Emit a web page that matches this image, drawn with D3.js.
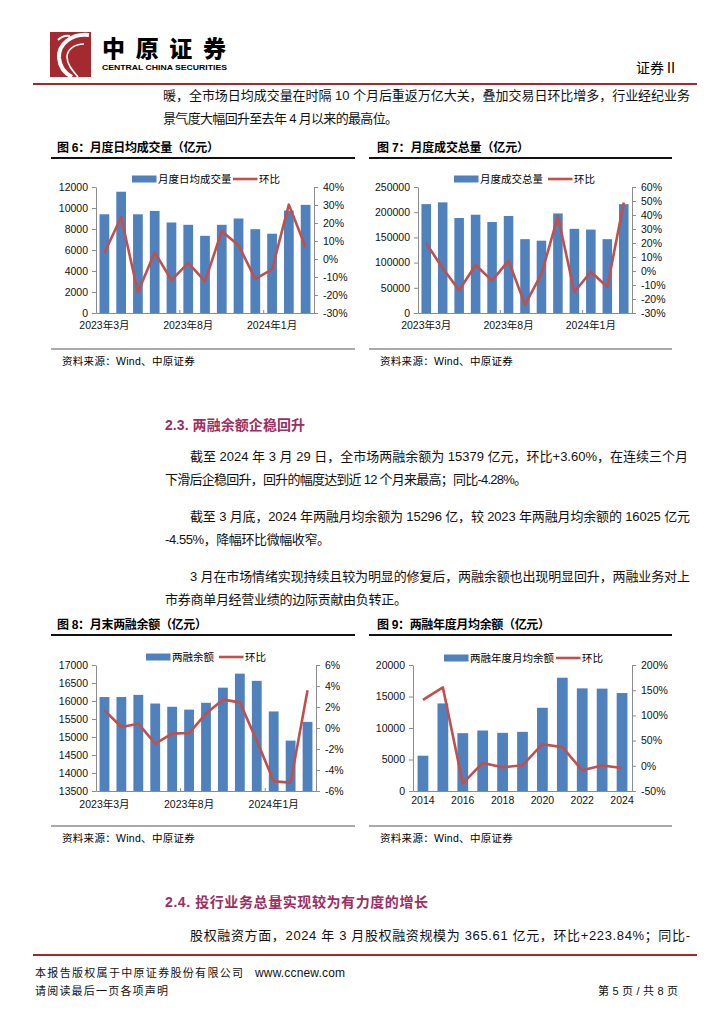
<!DOCTYPE html>
<html><head><meta charset="utf-8">
<script src="https://cdn.jsdelivr.net/npm/d3@7/dist/d3.min.js"></script>
<style>
html,body{margin:0;padding:0;background:#fff;}
svg{display:block;}
text{font-family:"Liberation Sans",Arial,"Noto Sans CJK SC",sans-serif;}
</style></head>
<body>
<svg id="page" width="724" height="1024"></svg>
<script>
// ---------------- DATA ----------------
const monthLabels = ["2023年3月","2023年4月","2023年5月","2023年6月","2023年7月","2023年8月","2023年9月","2023年10月","2023年11月","2023年12月","2024年1月","2024年2月","2024年3月"];
const monthTickShown = ["2023年3月","2023年8月","2024年1月"];

const dailyTurnover    = [9400, 11550, 9400, 9720, 8620, 8400, 7350, 8400, 9000, 7980, 7550, 9750, 10300];
const dailyTurnoverMoM = [3.3, 23.3, -18.5, 3.7, -11.7, -2.2, -12.4, 15.4, 7.6, -11.1, -5.7, 30.2, 6.5];
const dailyLeftTicks  = [0, 2000, 4000, 6000, 8000, 10000, 12000];
const dailyRightTicks = [-30, -20, -10, 0, 10, 20, 30, 40];

const totalTurnover    = [216000, 219500, 188500, 195000, 180500, 192500, 146500, 143500, 197500, 167000, 165500, 146500, 216000];
const totalTurnoverMoM = [19.8, 2.0, -13.8, 4.3, -6.9, 7.4, -24.0, -2.1, 39.0, -15.0, -0.5, -11.4, 49.0];
const totalLeftTicks  = [0, 50000, 100000, 150000, 200000, 250000];
const totalRightTicks = [-30, -20, -10, 0, 10, 20, 30, 40, 50, 60];

const marginBalance    = [16110, 16110, 16170, 15930, 15840, 15760, 15950, 16370, 16760, 16560, 15710, 14900, 15420];
const marginBalanceMoM = [1.68, 0.1, 0.41, -1.49, -0.54, -0.48, 1.37, 2.7, 2.44, -1.2, -5.08, -5.2, 3.6];
const marginLeftTicks  = [13500, 14000, 14500, 15000, 15500, 16000, 16500, 17000];
const marginRightTicks = [-6, -4, -2, 0, 2, 4, 6];

const years = ["2014","2015","2016","2017","2018","2019","2020","2021","2022","2023","2024"];
const yearTickShown = ["2014","2016","2018","2020","2022","2024"];
const marginAnnualAvg    = [5600, 13900, 9180, 9600, 9230, 9390, 13210, 17980, 16290, 16250, 15550];
const marginAnnualAvgChg = [131, 155.6, -35, 5.7, -3, 1, 42.8, 37, -9, 0.5, -4.5];
const annualLeftTicks  = [0, 5000, 10000, 15000, 20000];
const annualRightTicks = [-50, 0, 50, 100, 150, 200];

// ---------------- PAGE ----------------
const svg = d3.select("#page");
const BLUE = "#4F81BD", RED = "#C0504D", AXIS = "#8c8c8c", HEAD = "#A3282E", PURPLE = "#9B2F62";

// header logo
const logo = svg.append("g");
logo.append("rect").attr("x",50).attr("y",32).attr("width",41).attr("height",45).attr("fill","#A52A2F");
logo.append("path").attr("d","M89,35 C72,33 58,44 59,58 C60,68 66,74 72,77").attr("fill","none").attr("stroke","#fff").attr("stroke-width",4);
logo.append("path").attr("d","M84,44 C74,44 67,50 67,57 C67,64 72,70 78,77").attr("fill","none").attr("stroke","#fff").attr("stroke-width",1.6);
logo.append("path").attr("d","M58,40 C62,36 66,35 70,36").attr("fill","none").attr("stroke","#fff").attr("stroke-width",2);
svg.append("text").attr("x",102).attr("y",49).attr("dominant-baseline","central")
  .attr("font-family","Noto Sans CJK SC").attr("font-weight",900).attr("font-size",23)
  .attr("textLength",124).attr("lengthAdjust","spacing").text("中原证券");
svg.append("text").attr("x",102).attr("y",67).attr("dominant-baseline","central")
  .attr("font-weight","bold").attr("font-size",7.2).attr("textLength",125).attr("lengthAdjust","spacingAndGlyphs")
  .text("CENTRAL CHINA SECURITIES");
svg.append("text").attr("x",636).attr("y",68).attr("dominant-baseline","central")
  .attr("font-size",14).attr("font-family","Noto Sans CJK SC").text("证券Ⅱ");
svg.append("line").attr("x1",33).attr("x2",697).attr("y1",84).attr("y2",84).attr("stroke",HEAD).attr("stroke-width",2);

// body text helper
function line(x, y, w, str, opts={}) {
  const t = svg.append("text").attr("x",x).attr("y",y).attr("dominant-baseline","central")
    .attr("font-size",opts.size||13).attr("fill",opts.fill||"#111").text(str);
  if (opts.bold) t.attr("font-weight","bold");
  if (w) t.attr("textLength",w).attr("lengthAdjust","spacing");
  return t;
}
line(163, 95, 527, "暖，全市场日均成交量在时隔 10 个月后重返万亿大关，叠加交易日环比增多，行业经纪业务");
line(163, 118, 235, "景气度大幅回升至去年 4 月以来的最高位。");

line(165, 425, 140, "2.3. 两融余额企稳回升", {size:14, bold:true, fill:PURPLE});
line(190, 456, 498, "截至 2024 年 3 月 29 日，全市场两融余额为 15379 亿元，环比+3.60%，在连续三个月");
line(165, 479, 362, "下滑后企稳回升，回升的幅度达到近 12 个月来最高；同比-4.28%。");
line(190, 516, 500, "截至 3 月底，2024 年两融月均余额为 15296 亿，较 2023 年两融月均余额的 16025 亿元");
line(165, 539, 165, "-4.55%，降幅环比微幅收窄。");
line(190, 576, 500, "3 月在市场情绪实现持续且较为明显的修复后，两融余额也出现明显回升，两融业务对上");
line(165, 599, 242, "市券商单月经营业绩的边际贡献由负转正。");

line(165, 902, 263, "2.4. 投行业务总量实现较为有力度的增长", {size:14, bold:true, fill:PURPLE});
line(190, 935, 500, "股权融资方面，2024 年 3 月股权融资规模为 365.61 亿元，环比+223.84%；同比-");

// footer
svg.append("line").attr("x1",33).attr("x2",697).attr("y1",955).attr("y2",955).attr("stroke",HEAD).attr("stroke-width",2);
line(35, 973, 208, "本报告版权属于中原证券股份有限公司", {size:11});
line(255, 973, 90, "www.ccnew.com", {size:12});
line(35, 991, 133, "请阅读最后一页各项声明", {size:11});
line(598, 991, 80, "第 5 页 / 共 8 页", {size:11});

// ---------------- CHARTS ----------------
const pct = d => (d < 0 ? "-" : "") + Math.abs(d) + "%";

function drawChart(c) {
  const g = svg.append("g");
  // title & rules
  g.append("text").attr("x",c.titleX).attr("y",c.titleY).attr("dominant-baseline","central")
    .attr("font-size",12).attr("font-weight","bold").attr("textLength",c.titleW).attr("lengthAdjust","spacing").text(c.title);
  g.append("line").attr("x1",c.ruleX1).attr("x2",c.ruleX2).attr("y1",c.titleY+10).attr("y2",c.titleY+10)
    .attr("stroke","#111").attr("stroke-width",2);
  g.append("line").attr("x1",c.ruleX1).attr("x2",c.ruleX2).attr("y1",c.bottomY).attr("y2",c.bottomY)
    .attr("stroke","#555").attr("stroke-width",1);
  g.append("text").attr("x",c.ruleX1+11).attr("y",c.bottomY+12).attr("dominant-baseline","central")
    .attr("font-size",10.5).attr("letter-spacing",0.3).text("资料来源：Wind、中原证券");

  const x = d3.scaleBand().domain(c.cats).range([c.x0, c.x1]).paddingInner(c.pad).paddingOuter(c.pad/2);
  const yL = d3.scaleLinear().domain(d3.extent(c.leftTicks)).range([c.yB, c.yT]);
  const yR = d3.scaleLinear().domain(d3.extent(c.rightTicks)).range([c.yB, c.yT]);

  // bars
  g.append("g").selectAll("rect").data(c.values).join("rect")
    .attr("x",(d,i)=>x(c.cats[i])).attr("width",x.bandwidth())
    .attr("y",d=>yL(d)).attr("height",d=>c.yB - yL(d)).attr("fill",BLUE);

  // axes
  const styleAxis = a => {
    a.select(".domain").attr("stroke",AXIS);
    a.selectAll(".tick line").attr("stroke",AXIS);
    a.selectAll(".tick text").attr("fill","#111").attr("font-size",10.5)
      .attr("font-family","'Liberation Sans',Arial,'Noto Sans CJK SC',sans-serif");
  };
  g.append("g").attr("transform",`translate(${c.x0},0)`)
    .call(d3.axisLeft(yL).tickValues(c.leftTicks).tickSize(4).tickSizeOuter(0).tickPadding(c.lPad).tickFormat(d3.format("d")))
    .call(styleAxis);
  g.append("g").attr("transform",`translate(${c.x1},0)`)
    .call(d3.axisRight(yR).tickValues(c.rightTicks).tickSize(4).tickSizeOuter(0).tickPadding(c.rPad).tickFormat(pct))
    .call(styleAxis);
  g.append("g").attr("transform",`translate(0,${c.yB})`)
    .call(d3.axisBottom(x).tickValues(c.shown).tickSize(0).tickPadding(c.xPad))
    .call(styleAxis);
  // inward tick marks at category boundaries
  c.boundaryTicks.forEach(k => {
    const bx = c.x0 + k * (c.x1 - c.x0) / c.cats.length;
    g.append("line").attr("x1",bx).attr("x2",bx).attr("y1",c.yB).attr("y2",c.yB-3).attr("stroke",AXIS);
  });

  // line
  const ln = d3.line().x((d,i)=>x(c.cats[i]) + x.bandwidth()/2).y(d=>yR(d));
  g.append("path").datum(c.lineValues).attr("d",ln).attr("fill","none")
    .attr("stroke",RED).attr("stroke-width",2.6).attr("stroke-linejoin","round");

  // legend
  const lg = g.append("g");
  lg.append("rect").attr("x",c.legX).attr("y",c.legY-3.5).attr("width",24.5).attr("height",7).attr("fill",BLUE);
  lg.append("text").attr("x",c.legX+26).attr("y",c.legY).attr("dominant-baseline","central")
    .attr("font-size",10.5).text(c.barName);
  lg.append("line").attr("x1",c.legLX).attr("x2",c.legLX+24.5).attr("y1",c.legY).attr("y2",c.legY)
    .attr("stroke",RED).attr("stroke-width",2.6);
  lg.append("text").attr("x",c.legLX+26).attr("y",c.legY).attr("dominant-baseline","central")
    .attr("font-size",10.5).text("环比");
}

drawChart({title:"图 6：月度日均成交量（亿元）", titleX:57, titleW:162, titleY:148, ruleX1:51, ruleX2:355, bottomY:349,
  cats:monthLabels, shown:monthTickShown, values:dailyTurnover, lineValues:dailyTurnoverMoM,
  leftTicks:dailyLeftTicks, rightTicks:dailyRightTicks,
  x0:96, x1:314, yT:187, yB:313, pad:0.42, lPad:4, rPad:5, xPad:9, boundaryTicks:[5,10],
  barName:"月度日均成交量", legX:132, legLX:233, legY:179});

drawChart({title:"图 7：月度成交总量（亿元）", titleX:377, titleW:152, titleY:148, ruleX1:369, ruleX2:672, bottomY:349,
  cats:monthLabels, shown:monthTickShown, values:totalTurnover, lineValues:totalTurnoverMoM,
  leftTicks:totalLeftTicks, rightTicks:totalRightTicks,
  x0:418, x1:632, yT:187, yB:313, pad:0.42, lPad:4, rPad:5, xPad:9, boundaryTicks:[5,10],
  barName:"月度成交总量", legX:454, legLX:548, legY:179});

drawChart({title:"图 8：月末两融余额（亿元）", titleX:57, titleW:150, titleY:625, ruleX1:51, ruleX2:355, bottomY:826,
  cats:monthLabels, shown:monthTickShown, values:marginBalance, lineValues:marginBalanceMoM,
  leftTicks:marginLeftTicks, rightTicks:marginRightTicks,
  x0:96, x1:316, yT:665, yB:791, pad:0.42, lPad:4, rPad:5, xPad:10, boundaryTicks:[5,10],
  barName:"两融余额", legX:146, legLX:219, legY:657});

drawChart({title:"图 9：两融年度月均余额（亿元）", titleX:377, titleW:173, titleY:625, ruleX1:369, ruleX2:672, bottomY:826,
  cats:years, shown:yearTickShown, values:marginAnnualAvg, lineValues:marginAnnualAvgChg,
  leftTicks:annualLeftTicks, rightTicks:annualRightTicks,
  x0:413, x1:632, yT:665, yB:791, pad:0.46, lPad:4, rPad:5, xPad:6, boundaryTicks:[],
  barName:"两融年度月均余额", legX:444, legLX:556, legY:658});
</script>
</body></html>
